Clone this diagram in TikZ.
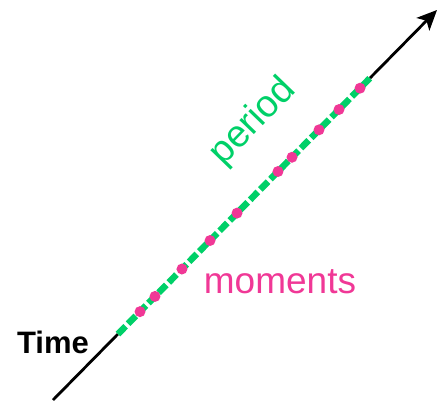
\documentclass[tikz,border=0pt]{standalone}
\usepackage{fontspec}
\setmainfont{Liberation Sans}
\usetikzlibrary{arrows.meta,calc}
\definecolor{pgreen}{RGB}{0,208,104}
\definecolor{mpink}{RGB}{240,56,150}
\tikzset{
  axisline/.style={line width=2.8pt,black},
  axisarrow/.style={axisline,-{Stealth[length=20pt,width=18pt,inset=5pt]}},
  periodline/.style={line width=6.5pt,pgreen,dash pattern=on 11pt off 3.5pt},
  moment/.style={circle,fill=mpink,inner sep=0pt,minimum size=11pt},
  lbl/.style={inner sep=0pt,anchor=base}
}
\begin{document}
\begin{tikzpicture}[x=1pt,y=-1pt]
\useasboundingbox (0,0) rectangle (446,406);
\coordinate (s) at (53,400);
\coordinate (e) at (437,10);
\coordinate (gs) at ($(s)!0.169!(e)$);
\coordinate (ge) at ($(s)!0.8255!(e)$);
\draw[axisline] (s) -- (gs);
\draw[axisarrow] (ge) -- (e);
\draw[periodline] (gs) -- (ge);
\foreach \t [count=\i] in {0.2266,0.2656,0.3359,0.4089,0.4792,0.5859,0.6224,0.6927,0.7448,0.7995}
  \node[moment] (m\i) at ($(s)!\t!(e)$) {};
\node[lbl,font=\fontsize{31}{31}\selectfont\bfseries] (time) at (53,353) {Time};
\node[lbl,font=\fontsize{37}{37}\selectfont,text=mpink] (moments) at (280,293) {moments};
\node[inner sep=0pt,font=\fontsize{38}{38}\selectfont,text=pgreen,rotate=46] (period) at (253,122) {period};
\end{tikzpicture}
\end{document}
